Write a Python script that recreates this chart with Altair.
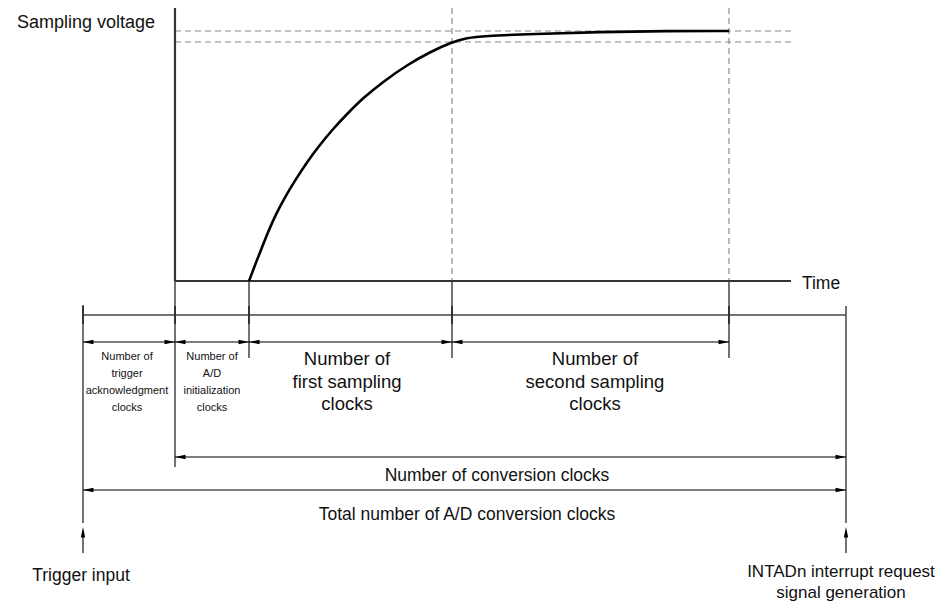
import altair as alt
import pandas as pd

# ---- diagram data (units = positions in the original timing diagram) ----
# phase boundaries along the time axis
phase_x = [83, 175, 249, 452, 729, 846]   # trigger, conv start, sampling start, 1st end, 2nd end, INTAD
time_axis_end = 791
dash_end = 793

# vertical levels (diagram units, downward)
level_top = 8
level_time = 281
level_base = 315
level_phase_arrows = 342
level_conv_arrow = 457
level_total_arrow = 490
level_up_tip, level_up_tail = 527, 553
level_final_v, level_first_v = 31, 42

# sampling voltage curve
curve_t = [249, 255, 261, 268, 276, 285, 296, 307, 319, 332, 347, 363, 384, 407, 430, 452,
           467, 483, 533, 600, 667, 729]
curve_v = [281, 265, 250, 232, 214, 197, 179, 162, 146, 130, 114, 98, 81, 65, 52, 42,
           38, 36, 34, 32, 31, 31]

# texts
label_text = ["Sampling voltage", "Time",
              "Number of", "trigger", "acknowledgment", "clocks",
              "Number of", "A/D", "initialization", "clocks",
              "Number of", "first sampling", "clocks",
              "Number of", "second sampling", "clocks",
              "Number of conversion clocks", "Total number of A/D conversion clocks",
              "Trigger input", "INTADn interrupt request", "signal generation"]
label_x = [86, 821,
           127, 127, 127, 127,
           212, 212, 212, 212,
           347, 347, 347,
           595, 595, 595,
           497, 467, 81, 841, 841]
label_y = [28, 289,
           360, 377, 394, 411,
           360, 377, 394, 411,
           365, 388, 410,
           365, 388, 410,
           481, 520, 581, 577, 598]
label_size = [18, 17.5,
              11, 11, 11, 11,
              11, 11, 11, 11,
              18.5, 18.5, 18.5,
              18.5, 18.5, 18.5,
              17.5, 17.5, 17.5, 17, 17]

# ---- build tables ----
X = lambda f: alt.X(f, type="quantitative", scale=alt.Scale(domain=[8, 944], nice=False, zero=False), axis=None)
Y = lambda f: alt.Y(f, type="quantitative", scale=alt.Scale(domain=[602, 8], nice=False, zero=False), axis=None)

x_trig, x_conv, x_samp, x_s1, x_s2, x_end = phase_x

thick = pd.DataFrame({
    "x": [x_conv, x_conv], "x2": [x_conv, time_axis_end],
    "y": [level_top, level_time], "y2": [level_time, level_time]})

dashed = pd.DataFrame({
    "x": [x_conv, x_conv, x_s1, x_s2], "x2": [dash_end, dash_end, x_s1, x_s2],
    "y": [level_final_v, level_first_v, level_top, level_top],
    "y2": [level_final_v, level_first_v, level_time, level_time]})

thin_x, thin_x2, thin_y, thin_y2 = [], [], [], []
# vertical extension lines
for xv, y1, y2 in [(x_trig, 305, 523), (x_conv, level_time, 467), (x_samp, level_time, 358),
                   (x_s1, level_time, 358), (x_s2, level_time, 358), (x_end, 306, 523)]:
    thin_x += [xv]; thin_x2 += [xv]; thin_y += [y1]; thin_y2 += [y2]
# dimension arrows
h_arrows = [(x_trig, x_conv, level_phase_arrows), (x_conv, x_samp, level_phase_arrows),
            (x_samp, x_s1, level_phase_arrows), (x_s1, x_s2, level_phase_arrows),
            (x_conv, x_end, level_conv_arrow), (x_trig, x_end, level_total_arrow)]
for a, b, yv in h_arrows:
    thin_x += [a]; thin_x2 += [b]; thin_y += [yv]; thin_y2 += [yv]
# up arrows shafts
for xv in [x_trig, x_end]:
    thin_x += [xv]; thin_x2 += [xv]; thin_y += [level_up_tip + 4]; thin_y2 += [level_up_tail]
thin = pd.DataFrame({"x": thin_x, "x2": thin_x2, "y": thin_y, "y2": thin_y2})

base = pd.DataFrame({"x": [x_trig], "x2": [x_end], "y": [level_base], "y2": [level_base]})
ticks = pd.DataFrame({"x": phase_x[:5], "x2": phase_x[:5], "y": [306] * 5, "y2": [324] * 5})

right_heads = pd.DataFrame({"x": [b for a, b, y in h_arrows], "y": [y for a, b, y in h_arrows]})
left_heads = pd.DataFrame({"x": [a for a, b, y in h_arrows], "y": [y for a, b, y in h_arrows]})
up_heads = pd.DataFrame({"x": [x_trig, x_end], "y": [level_up_tip, level_up_tip]})

curve = pd.DataFrame({"t": curve_t, "v": curve_v, "o": list(range(len(curve_t)))})
labels = pd.DataFrame({"x": label_x, "y": label_y, "text": label_text, "size": label_size})

def rules(df, **kw):
    return alt.Chart(df).mark_rule(**kw).encode(x=X("x"), x2="x2", y=Y("y"), y2="y2")

RIGHT = "M0,0 L-2,-0.42 L-2,0.42 Z"
LEFT = "M0,0 L2,-0.42 L2,0.42 Z"
UP = "M0,0 L-0.42,2 L0.42,2 Z"

def heads(df, shape):
    return alt.Chart(df).mark_point(shape=shape, filled=True, size=110, color="black",
                                    opacity=1, strokeWidth=0).encode(x=X("x"), y=Y("y"))

layers = [
    rules(dashed, color="#8a8a8a", strokeWidth=1.2, strokeDash=[6, 4]),
    rules(thin, color="black", strokeWidth=1.1),
    rules(base, color="#444444", strokeWidth=1.6),
    rules(ticks, color="#333333", strokeWidth=2),
    rules(thick, color="#333333", strokeWidth=2.2),
    alt.Chart(curve).mark_line(color="black", strokeWidth=2.6, interpolate="basis").encode(
        x=X("t"), y=Y("v"), order="o:Q"),
    heads(right_heads, RIGHT),
    heads(left_heads, LEFT),
    heads(up_heads, UP),
    alt.Chart(labels).mark_text(baseline="alphabetic", align="center", font="Liberation Sans",
                                color="#111111").encode(
        x=X("x"), y=Y("y"), text="text:N", size=alt.Size("size:Q", scale=None)),
]

chart = alt.layer(*layers).properties(
    width=936, height=594, padding=0,
    autosize=alt.AutoSizeParams(type="none"),
).configure_view(stroke=None)

chart.save("out.html", embed_options={"renderer": "svg", "actions": False})
